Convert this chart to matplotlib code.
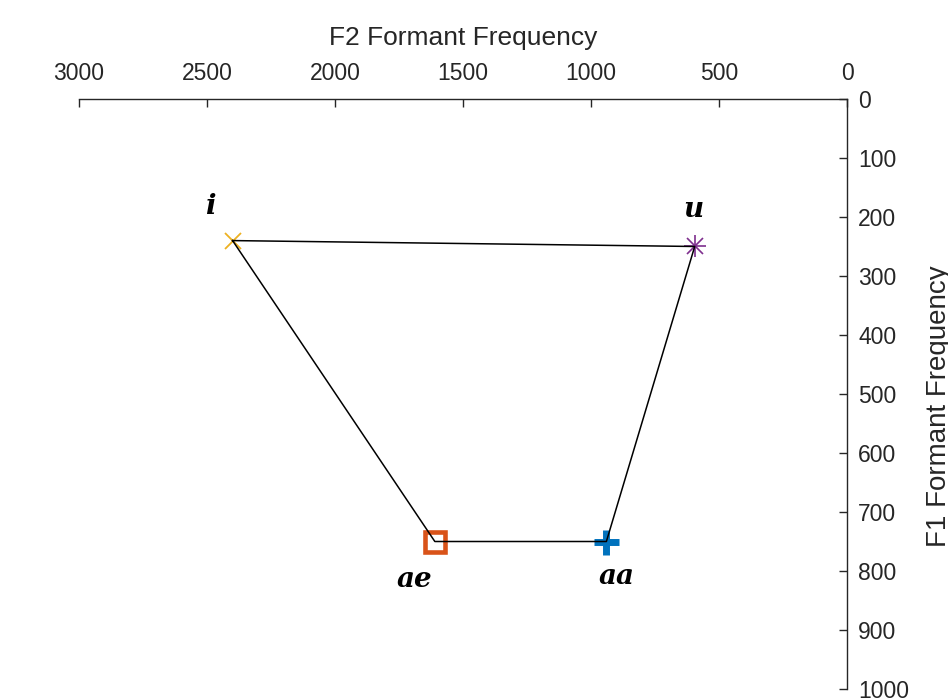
import matplotlib.pyplot as plt

# ------------------------------------------------------
# Data
# ------------------------------------------------------

vowels = ["i", "u", "aa", "ae"]
f2_values = [2400, 595, 940, 1610]
f1_values = [240, 250, 750, 750]

x_ticks = [3000, 2500, 2000, 1500, 1000, 500, 0]
y_ticks = [0, 100, 200, 300, 400, 500, 600, 700, 800, 900, 1000]

# ------------------------------------------------------
# Label placement (offsets in data units)
# ------------------------------------------------------

label_offsets = {
    "i": (88, -57),
    "u": (7, -62),
    "aa": (-42, 60),
    "ae": (81, 65),
}

plt.rcParams["font.family"] = ["Liberation Sans", "DejaVu Sans"]

fig = plt.figure(figsize=(9.48, 7.0), dpi=100)
ax = fig.add_axes([0.0833, 0.0157, 0.8102, 0.8429])

# markers
ax.plot(f2_values[0], f1_values[0], linestyle="none", marker="x",
        color="#EDB120", markersize=12, markeredgewidth=1.3)

# star made of + and x
ax.plot(f2_values[1], f1_values[1], linestyle="none", marker="+",
        color="#7E2F8E", markersize=16, markeredgewidth=1.2)
ax.plot(f2_values[1], f1_values[1], linestyle="none", marker="x",
        color="#7E2F8E", markersize=11, markeredgewidth=1.2)

ax.plot(f2_values[2], f1_values[2], linestyle="none", marker="+",
        color="#0072BD", markersize=18, markeredgewidth=5)

ax.plot(f2_values[3], f1_values[3], linestyle="none", marker="s",
        color="#D95319", markerfacecolor="none",
        markersize=14, markeredgewidth=3.3)

# outline of the vowel space
loop_x = f2_values + [f2_values[0]]
loop_y = f1_values + [f1_values[0]]

ax.plot(loop_x, loop_y, color="black", linewidth=1.1, zorder=3)

# vowel labels
for name, f2, f1 in zip(vowels, f2_values, f1_values):

    dx, dy = label_offsets[name]

    ax.text(
        f2 + dx,
        f1 + dy,
        name,
        family=["DejaVu Serif"],
        fontsize=20,
        fontweight="bold",
        fontstyle="italic",
        ha="center",
        va="center"
    )

# ------------------------------------------------------
# Axes
# ------------------------------------------------------

ax.set_xlim(3000, 0)
ax.set_ylim(1000, 0)

ax.xaxis.set_ticks_position("top")
ax.xaxis.set_label_position("top")
ax.yaxis.set_ticks_position("right")
ax.yaxis.set_label_position("right")

ax.set_xticks(x_ticks)
ax.set_yticks(y_ticks)

ax.spines["left"].set_visible(False)
ax.spines["bottom"].set_visible(False)

for side in ["top", "right"]:
    ax.spines[side].set_color("#262626")
    ax.spines[side].set_linewidth(1.0)

ax.tick_params(
    direction="in",
    length=6,
    width=1.0,
    colors="#262626",
    labelsize=16.5
)

ax.tick_params(axis="x", pad=10)
ax.tick_params(axis="y", pad=8)

ax.set_xlabel(
    "F2 Formant Frequency",
    fontsize=19,
    color="#262626",
    labelpad=12
)

ax.set_ylabel(
    "F1 Formant Frequency",
    fontsize=20,
    color="#262626",
    rotation=90
)

ax.yaxis.set_label_coords(1.103, 0.48)

fig.savefig("out.png", dpi=100)
